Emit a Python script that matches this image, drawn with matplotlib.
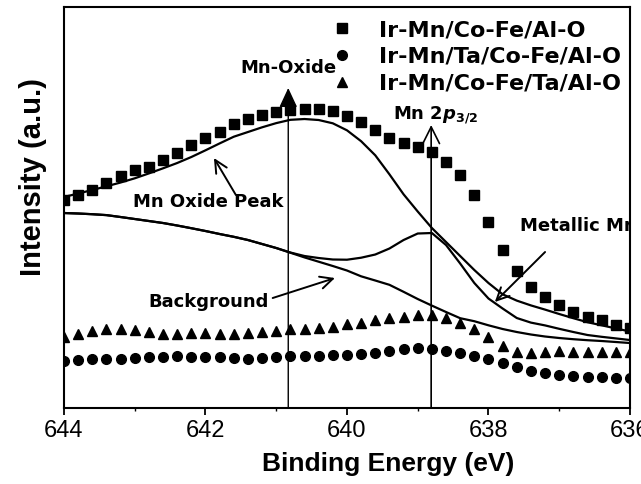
import numpy as np
import matplotlib
matplotlib.use("Agg")
import matplotlib.pyplot as plt

plt.rcParams['mathtext.fontset'] = 'custom'
plt.rcParams['mathtext.rm'] = 'DejaVu Sans:bold'
plt.rcParams['mathtext.it'] = 'DejaVu Sans:italic:bold'

# binding energy grid (eV), 0.2 eV steps from 644 down to 636
energy = np.linspace(644, 636, 41)

# measured spectra (a.u.)
irmn_cofe_alo = [208, 213, 218, 225, 232, 238, 241, 248, 255, 263,
                 270, 276, 284, 289, 293, 296, 298, 299, 299, 297,
                 292, 286, 278, 270, 265, 261, 256, 246, 233, 213,
                 186, 158, 137, 121, 111, 103, 96, 91, 88, 83, 80]
irmn_ta_cofe_alo = [47, 48, 49, 49, 49, 50, 51, 51, 52, 51,
                    51, 51, 50, 49, 50, 51, 52, 52, 52, 53,
                    53, 54, 55, 57, 59, 60, 59, 57, 55, 52,
                    49, 45, 41, 37, 35, 33, 32, 31, 31, 30, 30]
irmn_cofe_ta_alo = [71, 74, 77, 79, 79, 78, 76, 74, 74, 75,
                    75, 74, 74, 75, 76, 77, 79, 79, 80, 81,
                    84, 85, 88, 90, 91, 93, 93, 90, 85, 79,
                    71, 62, 56, 55, 56, 57, 56, 56, 56, 56, 56]

# fitted components (a.u.)
background = [195, 194.5, 193.8, 192.9, 191, 189, 187, 185, 182.5, 179.8,
              177, 174, 171.2, 168, 164, 160, 155.3, 150.6, 146.3, 142,
              137.5, 131.7, 127.5, 123.2, 116.2, 109, 102.4, 96, 89.8, 86.8,
              82.7, 79, 76, 73.5, 71.5, 70, 68.8, 67.8, 67, 66, 65]
oxide_peak = [211, 214.5, 218, 221.7, 225.5, 229.7, 234.6, 239.7, 245, 251,
              257.7, 264.6, 271.3, 276, 280.7, 284.9, 288.2, 289, 288, 284.7,
              277.7, 266.8, 252.7, 233.7, 213.7, 196.5, 180, 166, 152, 138,
              125, 113.7, 107.4, 102.6, 98.4, 94, 89.8, 85.8, 82.7, 79.6, 76.5]
metallic_peak = [195, 194.5, 193.8, 192.9, 191, 189, 187, 185, 182.5, 179.8,
                 177, 174, 171.2, 168, 164, 160, 155.5, 152, 150, 148.5,
                 148.3, 150.3, 153.5, 159.5, 168, 174.5, 175, 163, 144.5, 125,
                 109.5, 99.5, 90, 85.4, 82.6, 79.2, 76, 73, 71.2, 69.6, 68]

labels = ['Ir-Mn/Co-Fe/Al-O', 'Ir-Mn/Ta/Co-Fe/Al-O', 'Ir-Mn/Co-Fe/Ta/Al-O']

mn_oxide_pos = 640.83
mn_2p_pos = 638.81

fig = plt.figure(figsize=(6.41, 4.84), dpi=100)
ax = fig.add_axes([0.0998, 0.157, 0.883, 0.8285])

ax.plot(energy, irmn_cofe_alo, 's', color='black', ms=7, label=labels[0])
ax.plot(energy, irmn_ta_cofe_alo, 'o', color='black', ms=7, label=labels[1])
ax.plot(energy, irmn_cofe_ta_alo, '^', color='black', ms=7.5, label=labels[2])

for curve in (background, oxide_peak, metallic_peak):
    ax.plot(energy, curve, '-', color='black', lw=1.6)

ax.set_xlim(644, 636)
ax.set_ylim(0, 401)
ax.set_xticks([644, 642, 640, 638, 636])
ax.set_xticks([643, 641, 639, 637], minor=True)
ax.set_yticks([])
ax.tick_params(axis='x', which='major', length=5, width=1.3, direction='out', pad=3.5)
ax.tick_params(axis='x', which='minor', length=2.5, width=1.0, direction='out')
for lab in ax.get_xticklabels():
    lab.set_fontfamily('Liberation Sans')
    lab.set_fontsize(17)
for s in ax.spines.values():
    s.set_linewidth(1.5)

ax.set_xlabel('Binding Energy (eV)', fontfamily='Liberation Sans', fontweight='bold', fontsize=19)
ax.xaxis.set_label_coords(0.573, -0.11)
ax.set_ylabel('Intensity (a.u.)', fontfamily='Liberation Sans', fontweight='bold', fontsize=21)
ax.yaxis.set_label_coords(-0.03, 0.575)

# peak position arrows
ax.annotate('', xy=(mn_oxide_pos, 320), xytext=(mn_oxide_pos, 0),
            arrowprops=dict(arrowstyle='-|>,head_length=0.6,head_width=0.28',
                            mutation_scale=20, color='black', lw=1.0,
                            shrinkA=0, shrinkB=0))
ax.annotate('', xy=(mn_2p_pos, 283), xytext=(mn_2p_pos, 0),
            arrowprops=dict(arrowstyle='->,head_length=0.6,head_width=0.3',
                            mutation_scale=20, color='black', lw=1.2,
                            shrinkA=0, shrinkB=0))

tfont = dict(fontfamily='DejaVu Sans', fontweight='bold', fontsize=13)
ax.text(mn_oxide_pos, 340, 'Mn-Oxide', ha='center', va='center', **tfont)
ax.text(639.35, 293, r'Mn 2$p_{3/2}$', ha='left', va='center', **tfont)
ax.text(643.02, 206, 'Mn Oxide Peak', ha='left', va='center', **tfont)
ax.text(642.81, 106, 'Background', ha='left', va='center', **tfont)
ax.text(637.555, 182, 'Metallic Mn', ha='left', va='center', clip_on=True, **tfont)

arrow = dict(arrowstyle='->,head_length=0.45,head_width=0.22', mutation_scale=20,
             color='black', lw=1.4, shrinkA=0, shrinkB=0)
ax.annotate('', xy=(641.88, 250), xytext=(641.57, 213), arrowprops=arrow)
ax.annotate('', xy=(640.17, 130), xytext=(641.05, 110), arrowprops=arrow)
ax.annotate('', xy=(637.91, 106), xytext=(637.20, 156), arrowprops=arrow)

ax.legend(loc='upper left', bbox_to_anchor=(0.4717, 0.967), frameon=False,
          prop=dict(family='DejaVu Sans', weight='bold', size=16),
          handlelength=1.0, handletextpad=1.14, labelspacing=0.3,
          borderpad=0, borderaxespad=0)

fig.savefig('out.png', dpi=100)
